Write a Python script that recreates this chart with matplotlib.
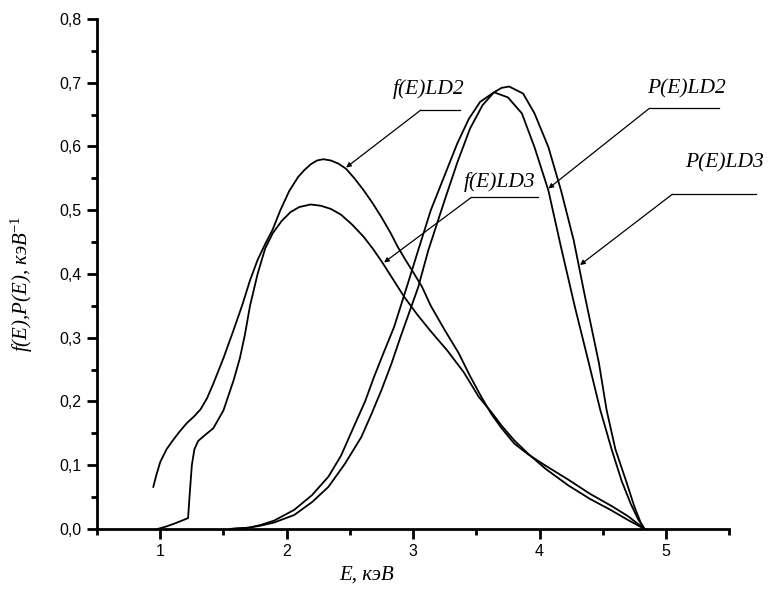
import matplotlib
matplotlib.use("Agg")
import matplotlib.pyplot as plt
from matplotlib.ticker import MultipleLocator, FuncFormatter

# энергетические спектры, значения
fld2_x = [0.945, 0.97, 1.0, 1.05, 1.10, 1.15, 1.21, 1.27, 1.32, 1.37, 1.42, 1.50,
          1.58, 1.65, 1.71, 1.77, 1.83, 1.89, 1.95, 2.02, 2.09, 2.14, 2.19, 2.24,
          2.29, 2.35, 2.41, 2.47, 2.54, 2.61, 2.68, 2.75, 2.82, 2.88, 2.94, 3.00,
          3.07, 3.14, 3.25, 3.36, 3.45, 3.54, 3.62, 3.70, 3.80, 3.91, 4.05, 4.23,
          4.40, 4.57, 4.70, 4.83]
fld2_y = [0.066, 0.085, 0.105, 0.125, 0.139, 0.152, 0.166, 0.177, 0.188, 0.205, 0.228, 0.268,
          0.312, 0.352, 0.390, 0.422, 0.447, 0.470, 0.500, 0.530, 0.552, 0.563, 0.572, 0.578,
          0.580, 0.578, 0.573, 0.565, 0.549, 0.531, 0.511, 0.489, 0.465, 0.442, 0.422, 0.403,
          0.380, 0.350, 0.312, 0.276, 0.240, 0.207, 0.180, 0.158, 0.134, 0.117, 0.099, 0.077,
          0.055, 0.036, 0.020, 0.0]

fld3_x = [0.98, 1.05, 1.12, 1.22, 1.235, 1.25, 1.27, 1.30, 1.34, 1.42, 1.50, 1.58,
          1.63, 1.67, 1.71, 1.77, 1.83, 1.89, 1.96, 2.03, 2.10, 2.19, 2.27, 2.35,
          2.43, 2.52, 2.61, 2.68, 2.75, 2.84, 2.93, 3.03, 3.14, 3.27, 3.40, 3.52,
          3.62, 3.70, 3.80, 3.91, 4.05, 4.23, 4.40, 4.57, 4.70, 4.83]
fld3_y = [0.0, 0.004, 0.009, 0.017, 0.06, 0.10, 0.125, 0.138, 0.145, 0.158, 0.186, 0.233,
          0.268, 0.305, 0.350, 0.400, 0.440, 0.464, 0.483, 0.497, 0.505, 0.509, 0.507, 0.502,
          0.493, 0.477, 0.458, 0.440, 0.420, 0.392, 0.364, 0.337, 0.310, 0.280, 0.246, 0.207,
          0.183, 0.162, 0.139, 0.118, 0.094, 0.068, 0.047, 0.029, 0.014, 0.0]

pld2_x = [1.55, 1.70, 1.79, 1.90, 2.06, 2.20, 2.33, 2.43, 2.53, 2.62, 2.69, 2.77,
          2.85, 2.96, 3.04, 3.14, 3.25, 3.35, 3.44, 3.53, 3.64, 3.75, 3.86, 3.96,
          4.07, 4.17, 4.28, 4.39, 4.48, 4.57, 4.65, 4.72, 4.78, 4.83]
pld2_y = [0.0, 0.002, 0.006, 0.013, 0.030, 0.053, 0.082, 0.115, 0.160, 0.200, 0.238, 0.278,
          0.317, 0.386, 0.437, 0.500, 0.555, 0.605, 0.643, 0.670, 0.685, 0.677, 0.652, 0.599,
          0.531, 0.442, 0.348, 0.260, 0.187, 0.125, 0.075, 0.040, 0.015, 0.0]

pld3_x = [1.55, 1.70, 1.79, 1.90, 2.06, 2.20, 2.33, 2.46, 2.59, 2.67, 2.75, 2.83,
          2.90, 2.97, 3.04, 3.12, 3.25, 3.35, 3.45, 3.55, 3.64, 3.70, 3.76, 3.87,
          3.96, 4.07, 4.17, 4.27, 4.36, 4.47, 4.53, 4.60, 4.69, 4.75, 4.80, 4.83]
pld3_y = [0.0, 0.002, 0.005, 0.010, 0.022, 0.042, 0.066, 0.102, 0.144, 0.180, 0.218, 0.260,
          0.301, 0.340, 0.379, 0.437, 0.516, 0.575, 0.628, 0.665, 0.685, 0.692, 0.694, 0.683,
          0.652, 0.599, 0.531, 0.453, 0.364, 0.260, 0.187, 0.125, 0.072, 0.035, 0.010, 0.0]

# подписи кривых: текст, центр текста, подчёркивание (x0, x1, y), остриё стрелки
labels = ["f(E)LD2", "P(E)LD2", "f(E)LD3", "P(E)LD3"]
label_pos = [(3.12, 0.690), (5.16, 0.691), (3.68, 0.544), (5.46, 0.574)]
underlines = [(3.06, 3.37, 0.657), (4.87, 5.42, 0.660), (3.46, 3.99, 0.520), (5.05, 5.71, 0.525)]
tips = [(2.47, 0.567), (4.07, 0.534), (2.77, 0.418), (4.32, 0.414)]

plt.rcParams['mathtext.fontset'] = 'custom'
plt.rcParams['mathtext.it'] = 'Liberation Serif:italic'
plt.rcParams['mathtext.rm'] = 'Liberation Serif'

fig = plt.figure(figsize=(7.7, 5.93), dpi=100)
ax = fig.add_axes([0.126, 0.108, 0.821, 0.860])

for xs, ys in [(fld2_x, fld2_y), (fld3_x, fld3_y), (pld2_x, pld2_y), (pld3_x, pld3_y)]:
    ax.plot(xs, ys, color='black', lw=1.3)

serif = dict(family='Liberation Serif', style='italic', color='black')
for txt, (tx, ty), (u0, u1, uy), tip in zip(labels, label_pos, underlines, tips):
    ax.text(tx, ty, txt, ha='center', va='center', fontsize=15.5, **serif)
    ax.plot([u0, u1], [uy, uy], color='black', lw=0.9, clip_on=False)
    ax.annotate('', xy=tip, xytext=(u0, uy),
                arrowprops=dict(arrowstyle='-|>', color='black', lw=0.9,
                                mutation_scale=7, shrinkA=0, shrinkB=0))

ax.set_xlim(0.5, 5.5)
ax.set_ylim(0, 0.8)
ax.xaxis.set_major_locator(MultipleLocator(1))
ax.xaxis.set_minor_locator(MultipleLocator(0.5))
ax.yaxis.set_major_locator(MultipleLocator(0.1))
ax.yaxis.set_minor_locator(MultipleLocator(0.05))
ax.yaxis.set_major_formatter(FuncFormatter(lambda v, p: f"{v:.1f}".replace('.', ',')))
ax.xaxis.set_major_formatter(FuncFormatter(lambda v, p: f"{v:.0f}"))

for s in ['top', 'right']:
    ax.spines[s].set_visible(False)
for s in ['left', 'bottom']:
    ax.spines[s].set_linewidth(2)

ax.tick_params(which='major', direction='out', length=7, width=2, labelsize=11.5, pad=4)
ax.tick_params(which='minor', direction='out', length=4, width=2)
for lab in ax.get_xticklabels() + ax.get_yticklabels():
    lab.set_family(['Liberation Sans Narrow', 'Liberation Sans'])

ax.set_xlabel('E, кэВ', fontsize=15, **serif)
ax.xaxis.set_label_coords(0.427, -0.072)
ax.set_ylabel('f(E),P(E), кэВ$^{-1}$', fontsize=15, **serif)
ax.yaxis.set_label_coords(-0.098, 0.48)

fig.savefig('out.png', dpi=100)
